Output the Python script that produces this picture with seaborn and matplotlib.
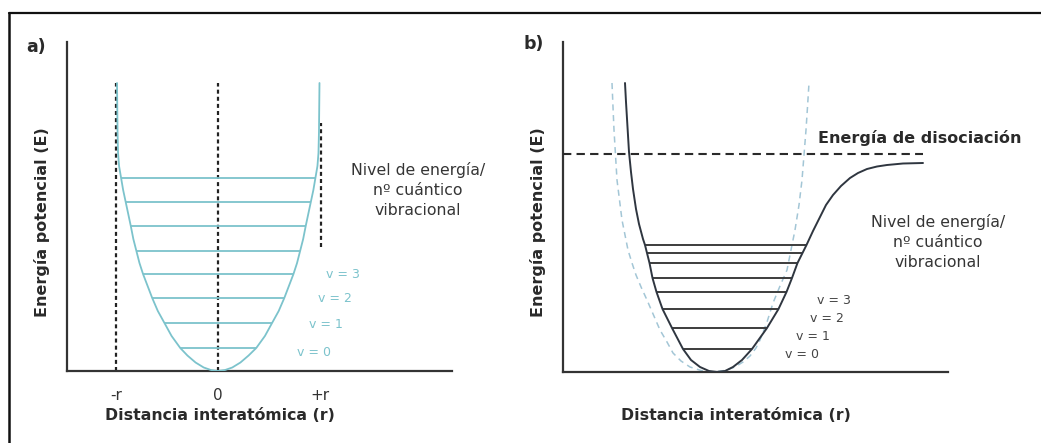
import numpy as np
import pandas as pd
import matplotlib
matplotlib.use("Agg")
import matplotlib.pyplot as plt
from matplotlib.lines import Line2D
import seaborn as sns

# ---------------- data ----------------
# Panel a: harmonic potential (x in units of r, E arbitrary)
harm_a_x = [-0.99, -0.985, -0.98, -0.97, -0.95, -0.93, -0.905, -0.88, -0.855, -0.83, -0.80, -0.77,
            -0.735, -0.69, -0.645, -0.59, -0.525, -0.455, -0.37, -0.30, -0.22, -0.14, -0.07, 0.00,
            0.07, 0.14, 0.22, 0.30, 0.375, 0.46, 0.53, 0.595, 0.65, 0.695, 0.74, 0.775, 0.805,
            0.835, 0.86, 0.885, 0.91, 0.935, 0.955, 0.975, 0.985, 0.99, 0.995]
harm_a_E = [2.88, 2.40, 2.18, 2.05, 1.93, 1.81, 1.69, 1.57, 1.45, 1.32, 1.20, 1.08,
            0.97, 0.85, 0.73, 0.60, 0.48, 0.35, 0.23, 0.155, 0.085, 0.035, 0.01, 0.00,
            0.01, 0.035, 0.085, 0.155, 0.23, 0.35, 0.48, 0.60, 0.73, 0.85, 0.97, 1.08, 1.20,
            1.32, 1.45, 1.57, 1.69, 1.81, 1.93, 2.05, 2.18, 2.40, 2.88]
levels_a_E = [0.23, 0.48, 0.73, 0.97, 1.20, 1.45, 1.69, 1.93]
levels_a_left = [-0.37, -0.525, -0.645, -0.735, -0.80, -0.855, -0.905, -0.95]
levels_a_right = [0.375, 0.53, 0.65, 0.74, 0.805, 0.86, 0.91, 0.955]
ref_lines_a = [-1.0, 0.0]
ref_top_a = 2.88
plus_r_x = 1.01
plus_r_span = [1.24, 2.48]
ticks_a = [-1, 0, 1]
tick_labels_a = ["-r", "0", "+r"]
v_labels = ["v = 3", "v = 2", "v = 1", "v = 0"]
v_a_x = [1.22, 1.15, 1.06, 0.94]
v_a_E = [0.96, 0.72, 0.46, 0.19]

# Panel b: Morse potential and harmonic approximation
morse_x = [0.62, 0.63, 0.645, 0.66, 0.68, 0.70, 0.73, 0.76, 0.80, 0.82, 0.84, 0.865, 0.895, 0.935,
           0.995, 1.09, 1.20, 1.28, 1.37, 1.46, 1.54, 1.62, 1.70, 1.79, 1.89, 2.04, 2.155, 2.235,
           2.29, 2.345, 2.395, 2.435, 2.50, 2.57, 2.63, 2.70, 2.78, 2.87, 2.95, 3.04, 3.14, 3.24,
           3.40, 3.60]
morse_E = [2.89, 2.70, 2.45, 2.20, 2.00, 1.83, 1.63, 1.48, 1.33, 1.27, 1.19, 1.09, 0.94, 0.80,
           0.63, 0.44, 0.23, 0.12, 0.05, 0.01, 0.00, 0.01, 0.05, 0.12, 0.23, 0.44, 0.63, 0.80,
           0.94, 1.09, 1.19, 1.27, 1.41, 1.55, 1.67, 1.77, 1.86, 1.94, 1.99, 2.03, 2.055, 2.07,
           2.085, 2.09]
harm_b_x = [0.49, 0.50, 0.51, 0.525, 0.54, 0.565, 0.59, 0.62, 0.65, 0.69, 0.73, 0.785, 0.84,
            0.905, 0.97, 1.04, 1.10, 1.18, 1.27, 1.38, 1.50, 1.62, 1.72, 1.80, 1.87, 1.93,
            1.97, 2.04, 2.10, 2.17, 2.24, 2.28, 2.32, 2.36, 2.39, 2.41, 2.43, 2.445, 2.46]
harm_b_E = [2.89, 2.65, 2.42, 2.17, 1.92, 1.72, 1.52, 1.37, 1.22, 1.09, 0.97, 0.84, 0.72,
            0.57, 0.42, 0.30, 0.19, 0.11, 0.05, 0.015, 0.00, 0.015, 0.05, 0.10, 0.16, 0.24,
            0.32, 0.50, 0.69, 0.86, 1.02, 1.22, 1.42, 1.67, 1.92, 2.17, 2.42, 2.65, 2.89]
levels_b_E = [0.23, 0.44, 0.63, 0.80, 0.94, 1.09, 1.19, 1.27]
levels_b_left = [1.20, 1.09, 0.995, 0.935, 0.895, 0.865, 0.84, 0.82]
levels_b_right = [1.89, 2.04, 2.155, 2.235, 2.29, 2.345, 2.395, 2.435]
dissoc_E = 2.18
dissoc_x_end = 3.60
v_b_x = [2.71, 2.64, 2.50, 2.39]
v_b_E = [0.72, 0.54, 0.35, 0.18]

note_text = "Nivel de energía/\nnº cuántico\nvibracional"
xlabel_text = "Distancia interatómica (r)"
ylabel_text = "Energía potencial (E)"

# ---------------- style ----------------
sns.set_theme(style="white")
plt.rcParams["font.family"] = ["DejaVu Sans"]

W, H = 1041, 443
fig = plt.figure(figsize=(W / 100, H / 100), dpi=100)
fig.patch.set_facecolor("white")

CYAN = "#7cc3cc"
DARK = "#2f3640"
AXC = "#333333"
TXT = "#2a2a2a"


def px_axes(l, r, b, t):
    return fig.add_axes([l / W, 1 - b / H, (r - l) / W, (b - t) / H])


def style_axes(ax):
    for s in ["top", "right"]:
        ax.spines[s].set_visible(False)
    for s in ["left", "bottom"]:
        ax.spines[s].set_color(AXC)
        ax.spines[s].set_linewidth(1.6)
    ax.set_yticks([])
    ax.set_facecolor("white")


def labels(ax, l, r, b, t, xl_x, yl_x):
    w, h = r - l, b - t
    ax.set_xlabel("")
    ax.set_ylabel("")
    ax.text((xl_x - l) / w, (b - 415) / h, xlabel_text, transform=ax.transAxes, fontsize=11.3,
            fontweight="bold", color=TXT, ha="center", va="center")
    ax.text((yl_x - l) / w, (b - 222) / h, ylabel_text, transform=ax.transAxes, fontsize=11.5,
            fontweight="bold", color=TXT, ha="center", va="center", rotation=90)


# ---------------- panel a ----------------
axa = px_axes(67, 452, 371, 42)
style_axes(axa)
axa.set_xlim((67 - 218) / 102, (452 - 218) / 102)
axa.set_ylim(0, 3.29)

dfa = pd.DataFrame({"x": harm_a_x, "E": harm_a_E})
for xr in ref_lines_a:
    axa.vlines(xr, 0, ref_top_a, colors="#222222", linestyles=(0, (1.8, 1.4)), linewidth=1.6, zorder=2)
axa.vlines(plus_r_x, plus_r_span[0], plus_r_span[1], colors="#222222", linestyles=(0, (1.8, 1.4)),
           linewidth=1.6, zorder=2)
axa.hlines(levels_a_E, levels_a_left, levels_a_right, colors=CYAN, linewidth=1.3, zorder=3)
sns.lineplot(data=dfa, x="x", y="E", sort=False, estimator=None, color=CYAN, linewidth=1.3, ax=axa, zorder=4)
for lab, xx, ee in zip(v_labels, v_a_x, v_a_E):
    axa.text(xx, ee, lab, color=CYAN, fontsize=9, ha="center", va="center")
axa.text(1.96, 1.81, note_text, color="#353535", fontsize=11.3, ha="center", va="center", linespacing=1.42)

axa.set_xticks(ticks_a)
axa.set_xticklabels(tick_labels_a, fontsize=11, color=AXC)
axa.tick_params(axis="x", length=0, pad=12)
labels(axa, 67, 452, 371, 42, 220, 42)

# ---------------- panel b ----------------
axb = px_axes(563, 948, 372, 42)
style_axes(axb)
axb.set_xticks([])
axb.set_xlim(0, (948 - 563) / 100)
axb.set_ylim(0, 3.30)

dfm = pd.DataFrame({"x": morse_x, "E": morse_E})
dfh = pd.DataFrame({"x": harm_b_x, "E": harm_b_E})
sns.lineplot(data=dfh, x="x", y="E", sort=False, estimator=None, color="#a3c6d6", linewidth=1.1,
             linestyle=(0, (4, 3)), ax=axb, zorder=2)
axb.hlines(levels_b_E, levels_b_left, levels_b_right, colors="#3c3c3c", linewidth=1.4, zorder=3)
sns.lineplot(data=dfm, x="x", y="E", sort=False, estimator=None, color=DARK, linewidth=1.4, ax=axb, zorder=4)
axb.hlines(dissoc_E, 0, dissoc_x_end, colors="#2a2a2a", linestyles=(0, (4, 2.5)), linewidth=1.5, zorder=3)
axb.text(3.57, 2.34, "Energía de disociación", fontsize=11.5, fontweight="bold", color=TXT,
         ha="center", va="center")
for lab, xx, ee in zip(v_labels, v_b_x, v_b_E):
    axb.text(xx, ee, lab, color="#444444", fontsize=9, ha="center", va="center")
axb.text(3.75, 1.30, note_text, color="#353535", fontsize=11.3, ha="center", va="center", linespacing=1.42)
labels(axb, 563, 948, 372, 42, 736, 538)

# panel letters
fig.text(36 / W, 1 - 47 / H, "a)", fontsize=12.5, fontweight="bold", color=TXT, ha="center", va="center")
fig.text(534 / W, 1 - 44 / H, "b)", fontsize=12.5, fontweight="bold", color=TXT, ha="center", va="center")

# frame (top and left edges)
fig.add_artist(Line2D([9 / W, 1], [1 - 13 / H, 1 - 13 / H], color="#111111", linewidth=1.6))
fig.add_artist(Line2D([9 / W, 9 / W], [0, 1 - 13 / H], color="#111111", linewidth=1.8))

fig.savefig("out.png", dpi=100, facecolor="white")
